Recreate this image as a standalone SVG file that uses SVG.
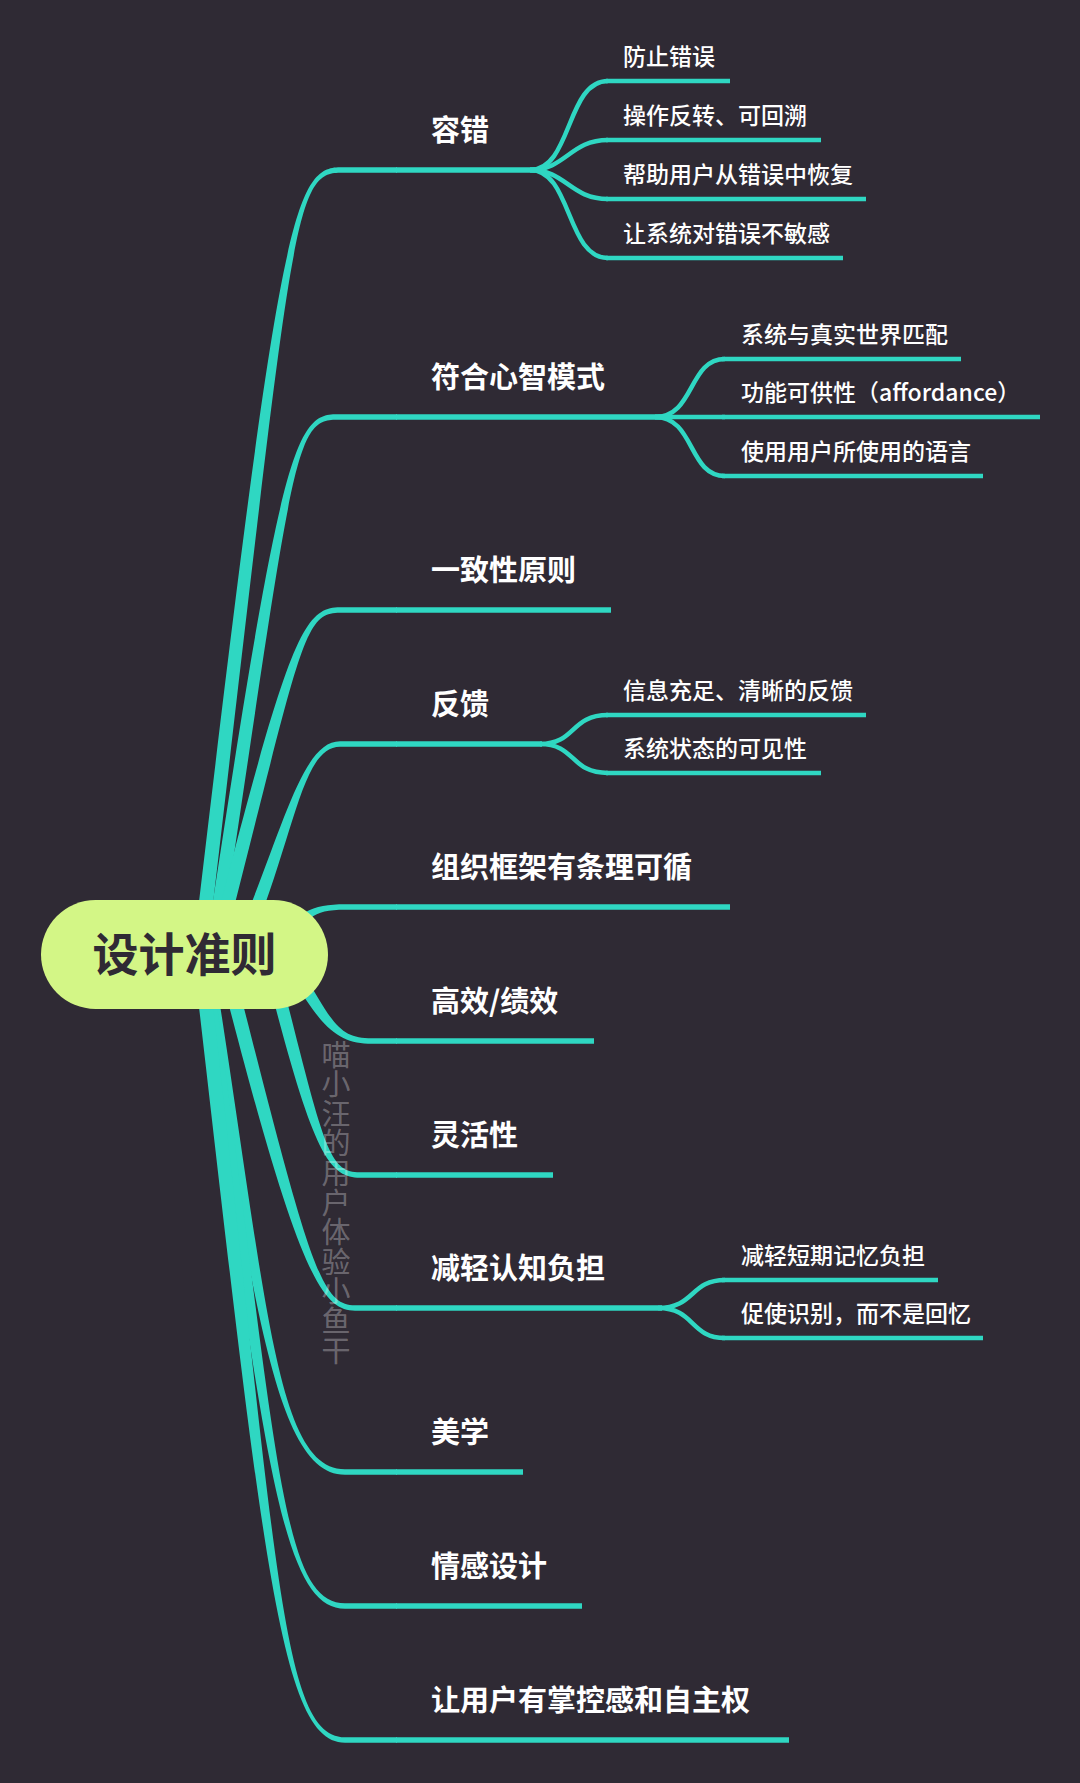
<svg xmlns="http://www.w3.org/2000/svg" width="1080" height="1783" viewBox="0 0 1080 1783">
<style>
.bg{fill:#2f2a34}
.br{fill:#2fd7c2}
.ul{stroke:#2fd7c2;stroke-width:5.4;fill:none}
.sc{stroke:#2fd7c2;stroke-width:4.5;fill:none}
.su{stroke:#2fd7c2;stroke-width:4.5;fill:none}
.t1{font-family:"Noto Sans CJK SC","Noto Sans",sans-serif;font-size:29px;font-weight:700;fill:#ffffff}
.t2{font-family:"Noto Sans CJK SC","Noto Sans",sans-serif;font-size:23px;font-weight:500;fill:#ffffff}
.root{fill:#d3f686}
.rt{font-family:"Noto Sans CJK SC","Noto Sans",sans-serif;font-size:46px;font-weight:700;fill:#2f2a34}
.wm{font-family:"Noto Sans CJK SC","Noto Sans",sans-serif;font-size:29px;fill:#ffffff;fill-opacity:0.3;writing-mode:vertical-rl;letter-spacing:0.6px}
</style>
<rect class="bg" x="0" y="0" width="1080" height="1783"/>
<g id="connectors">
  <path class="br" d="M193,953.2 C278,229.2 292,167.3 340,167.3 L397,167.3 L397,172.7 L340,172.7 C292,172.7 292,230.8 207,954.8 Z"/>
  <path class="br" d="M205.1,953 C278.1,469 293,414.3 335,414.3 L397,414.3 L397,419.7 L335,419.7 C293,419.7 291.9,471 218.9,955 Z"/>
  <path class="br" d="M208.2,952.3 C288.2,638.3 303,607.3 340,607.3 L397,607.3 L397,612.7 L340,612.7 C303,612.7 301.8,641.7 221.8,955.7 Z"/>
  <path class="br" d="M231.6,951.2 C281.6,837.2 300,741.3 340,741.3 L397,741.3 L397,746.7 L340,746.7 C300,746.7 294.4,842.8 244.4,956.8 Z"/>
  <path class="br" d="M274.8,947 C294.8,912 312,904.3 345,904.3 L397,904.3 L397,909.7 L345,909.7 C312,909.7 305.2,918 285.2,953 Z"/>
  <path class="br" d="M300.2,967 C333.2,1025 340,1038.3 372,1038.3 L397,1038.3 L397,1043.7 L372,1043.7 C340,1043.7 322.8,1031 289.8,973 Z"/>
  <path class="br" d="M276.3,958.4 C324.3,1148.4 328,1172.3 360,1172.3 L397,1172.3 L397,1177.7 L360,1177.7 C328,1177.7 311.7,1151.6 263.7,961.6 Z"/>
  <path class="br" d="M229.8,952.3 C308.8,1263.3 320,1305.3 355,1305.3 L397,1305.3 L397,1310.7 L355,1310.7 C320,1310.7 295.2,1266.7 216.2,955.7 Z"/>
  <path class="br" d="M211.9,952.9 C266.9,1298.9 275,1469.3 345,1469.3 L397,1469.3 L397,1474.7 L345,1474.7 C275,1474.7 253.1,1301.1 198.1,955.1 Z"/>
  <path class="br" d="M209.9,953.1 C276.9,1449.1 280,1603.3 345,1603.3 L397,1603.3 L397,1608.7 L345,1608.7 C280,1608.7 263.1,1450.9 196.1,954.9 Z"/>
  <path class="br" d="M207,953.2 C277,1559.2 280,1737.3 345,1737.3 L397,1737.3 L397,1742.7 L345,1742.7 C280,1742.7 263,1560.8 193,954.8 Z"/>
  <path class="sc" d="M530,170 C572,170 566,81 608,81"/>
  <path class="sc" d="M530,170 C566,170 570,140 608,140"/>
  <path class="sc" d="M530,170 C566,170 570,199 608,199"/>
  <path class="sc" d="M530,170 C572,170 566,258 608,258"/>
  <path class="sc" d="M655,417 C695,417 688,359 725,359"/>
  <path class="sc" d="M655,417 H725"/>
  <path class="sc" d="M655,417 C695,417 688,476 725,476"/>
  <path class="sc" d="M540,744 C576,744 570,715 608,715"/>
  <path class="sc" d="M540,744 C576,744 570,773 608,773"/>
  <path class="sc" d="M658,1308 C695,1308 690,1280 725,1280"/>
  <path class="sc" d="M658,1308 C695,1308 690,1338 725,1338"/>
</g>
<g id="root">
  <rect class="root" x="41" y="900" width="287" height="109" rx="54.5" ry="54.5"/>
  <text class="rt" x="184.5" y="971" text-anchor="middle">设计准则</text>
</g>
<g id="topic-rongcuo"><path class="ul" d="M396,170 H535"/><text class="t1" x="431" y="141">容错</text></g>
<g id="topic-fuhe"><path class="ul" d="M396,417 H662"/><text class="t1" x="431" y="388">符合心智模式</text></g>
<g id="topic-yizhi"><path class="ul" d="M396,610 H611"/><text class="t1" x="431" y="581">一致性原则</text></g>
<g id="topic-fankui"><path class="ul" d="M396,744 H542"/><text class="t1" x="431" y="715">反馈</text></g>
<g id="topic-zuzhi"><path class="ul" d="M396,907 H730"/><text class="t1" x="431" y="878">组织框架有条理可循</text></g>
<g id="topic-gaoxiao"><path class="ul" d="M396,1041 H594"/><text class="t1" x="431" y="1012">高效/绩效</text></g>
<g id="topic-linghuo"><path class="ul" d="M396,1175 H553"/><text class="t1" x="431" y="1146">灵活性</text></g>
<g id="topic-jianqing"><path class="ul" d="M396,1308 H662"/><text class="t1" x="431" y="1279">减轻认知负担</text></g>
<g id="topic-meixue"><path class="ul" d="M396,1472 H523"/><text class="t1" x="431" y="1443">美学</text></g>
<g id="topic-qinggan"><path class="ul" d="M396,1606 H582"/><text class="t1" x="431" y="1577">情感设计</text></g>
<g id="topic-zhangkong"><path class="ul" d="M396,1740 H789"/><text class="t1" x="431" y="1711">让用户有掌控感和自主权</text></g>
<g id="sub-1"><path class="su" d="M606,81 H730"/><text class="t2" x="623" y="65">防止错误</text></g>
<g id="sub-2"><path class="su" d="M606,140 H821"/><text class="t2" x="623" y="124">操作反转、可回溯</text></g>
<g id="sub-3"><path class="su" d="M606,199 H866"/><text class="t2" x="623" y="183">帮助用户从错误中恢复</text></g>
<g id="sub-4"><path class="su" d="M606,258 H843"/><text class="t2" x="623" y="242">让系统对错误不敏感</text></g>
<g id="sub-5"><path class="su" d="M722,359 H961"/><text class="t2" x="741" y="343">系统与真实世界匹配</text></g>
<g id="sub-6"><path class="su" d="M722,417 H1040"/><text class="t2" x="741" y="401">功能可供性（affordance）</text></g>
<g id="sub-7"><path class="su" d="M722,476 H983"/><text class="t2" x="741" y="460">使用用户所使用的语言</text></g>
<g id="sub-8"><path class="su" d="M606,715 H866"/><text class="t2" x="623" y="699">信息充足、清晰的反馈</text></g>
<g id="sub-9"><path class="su" d="M606,773 H821"/><text class="t2" x="623" y="757">系统状态的可见性</text></g>
<g id="sub-10"><path class="su" d="M722,1280 H938"/><text class="t2" x="741" y="1264">减轻短期记忆负担</text></g>
<g id="sub-11"><path class="su" d="M722,1338 H983"/><text class="t2" x="741" y="1322">促使识别，而不是回忆</text></g>
<g id="watermark">
  <text class="wm" x="336" y="1040">喵小汪的用户体验小鱼干</text>
</g>
</svg>
